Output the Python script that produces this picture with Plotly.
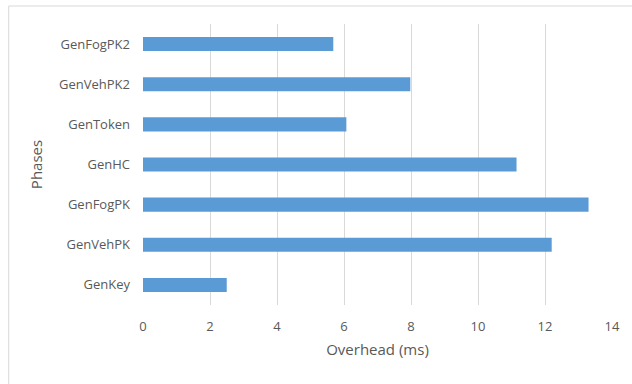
import plotly.graph_objects as go

phases = ["GenKey", "GenVehPK", "GenFogPK", "GenHC", "GenToken", "GenVehPK2", "GenFogPK2"]
overhead = [2.5, 12.2, 13.3, 11.15, 6.07, 7.98, 5.68]
x_ticks = [0, 2, 4, 6, 8, 10, 12, 14]

fig = go.Figure()
fig.add_trace(go.Bar(
    y=phases, x=overhead, orientation="h",
    marker=dict(color="#5b9bd5", line=dict(width=0)),
    width=0.35,
))

font_family = "Open Sans, Lato, sans-serif"
fig.update_layout(
    width=632, height=384,
    margin=dict(l=143, r=14, t=24, b=79),
    paper_bgcolor="white", plot_bgcolor="white",
    showlegend=False,
    font=dict(family=font_family, color="#595959", size=13),
    xaxis=dict(
        range=[0, 14], tickvals=x_ticks, ticktext=[str(v) for v in x_ticks],
        showgrid=True, gridcolor="#d9d9d9", gridwidth=1,
        zeroline=False, showline=False, ticks="",
        ticklabelstandoff=12,
        tickfont=dict(size=13, color="#595959"),
        title=dict(text="Overhead (ms)", font=dict(size=15, color="#595959"), standoff=10),
    ),
    yaxis=dict(
        categoryorder="array", categoryarray=phases,
        range=[-0.5, 6.5],
        showgrid=False, zeroline=False, showline=False, ticks="",
        ticklabelstandoff=12,
        tickfont=dict(size=13, color="#595959"),
        title=dict(text="Phases", font=dict(size=15, color="#595959"), standoff=12),
    ),
    shapes=[dict(
        type="rect", xref="paper", yref="paper",
        x0=(7 - 143) / 475, x1=1.1, y0=-0.5, y1=1 + 18 / 281,
        line=dict(color="#d9d9d9", width=1), fillcolor="rgba(0,0,0,0)", layer="below",
    )],
)

fig.write_html("out.html")
